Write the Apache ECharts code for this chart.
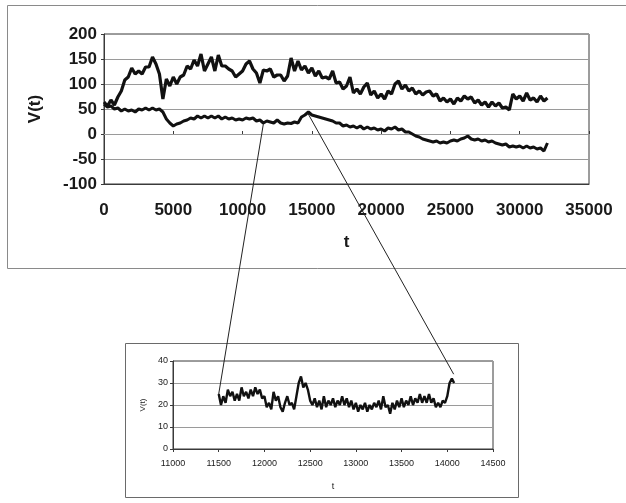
<!DOCTYPE html>
<html>
<head>
<meta charset="utf-8">
<script src="https://cdn.jsdelivr.net/npm/echarts@6/dist/echarts.min.js"></script>
<style>
    html, body { margin: 0; padding: 0; background: #fff; }
    #chart { width: 626px; height: 503px; }
</style>
</head>
<body>
<div id="chart"></div>
<script>
// main chart: two runs sampled every 250 steps, starting at t = 0
const mainStart = 0
const mainStep = 250
const upperRun = [
    64, 56, 68, 58, 74, 86, 108, 114, 132, 120, 126, 120, 134, 134, 154, 140,
    120, 70, 110, 96, 114, 100, 114, 118, 136, 130, 148, 136, 160, 126, 140, 154,
    126, 158, 136, 136, 130, 126, 114, 120, 126, 140, 146, 130, 122, 102, 128, 126,
    130, 114, 118, 118, 106, 116, 152, 126, 146, 128, 136, 122, 132, 116, 126, 112,
    114, 110, 126, 102, 104, 90, 96, 114, 82, 90, 80, 94, 102, 78, 86, 72,
    80, 70, 86, 80, 100, 106, 90, 98, 86, 92, 80, 86, 78, 84, 86, 76,
    80, 66, 72, 64, 70, 60, 72, 66, 76, 70, 74, 62, 68, 58, 64, 54,
    64, 56, 62, 52, 54, 48, 80, 70, 76, 66, 82, 68, 72, 64, 76, 66,
    72
]
const lowerRun = [
    60, 54, 56, 50, 52, 46, 50, 46, 48, 44, 50, 48, 52, 48, 52, 48,
    50, 44, 30, 22, 16, 20, 22, 26, 28, 32, 30, 36, 32, 36, 32, 36,
    32, 36, 30, 34, 30, 32, 28, 30, 28, 32, 30, 32, 26, 28, 22, 26,
    24, 22, 28, 22, 20, 22, 21, 24, 22, 34, 38, 44, 38, 36, 34, 32,
    30, 28, 26, 22, 22, 16, 18, 14, 16, 12, 16, 10, 14, 10, 12, 8,
    10, 6, 12, 10, 14, 8, 10, 4, 4, 0, -4, -6, -10, -12, -14, -16,
    -14, -18, -16, -18, -14, -12, -14, -10, -8, -4, -10, -12, -10, -14, -12, -16,
    -14, -18, -20, -22, -20, -26, -24, -26, -24, -28, -24, -28, -26, -30, -28, -34,
    -18
]

// zoomed part of the lower run, sampled every 25 steps from t = 11500
const zoomStart = 11500
const zoomStep = 25
const zoomRun = [
    25, 20, 24, 21, 27, 24, 26, 22, 25, 22, 28, 24, 26, 23, 27, 24,
    28, 25, 27, 23, 24, 19, 21, 18, 26, 22, 24, 19, 17, 21, 24, 20,
    21, 18, 24, 30, 33, 28, 30, 27, 22, 20, 23, 19, 22, 18, 24, 19,
    22, 20, 23, 19, 22, 20, 24, 20, 23, 19, 22, 18, 21, 17, 20, 18,
    21, 17, 20, 18, 21, 19, 22, 18, 24, 19, 20, 16, 21, 18, 22, 19,
    23, 19, 22, 20, 24, 20, 23, 21, 25, 21, 24, 21, 25, 21, 23, 19,
    21, 19, 22, 21, 24, 30, 32, 30
]

// where the zoom lines are anchored: [t, v] in each chart
const mainAnchors = [[11500, 20], [14700, 42]]
const zoomAnchors = [[11500, 25], [14070, 34]]

const mainYTicks = { min: -100, max: 200, interval: 50 }
const mainXTicks = { min: 0, max: 35000, interval: 5000 }
const zoomYTicks = { min: 0, max: 40, interval: 10 }
const zoomXTicks = { min: 11000, max: 14500, interval: 500 }

const toPairs = (start, step, values) => values.map((v, i) => [start + i * step, v])
const plain = v => String(v)

const textColor = '#1a1a1a'
const gridColor = '#9a9a9a'
const frameColor = '#3a3a3a'
const font = 'Liberation Sans, Arial, sans-serif'

function valueAxis(ticks, gridIndex, extra) {
    return Object.assign({
        type: 'value',
        gridIndex: gridIndex,
        min: ticks.min,
        max: ticks.max,
        interval: ticks.interval,
        axisLine: { show: true, onZero: false, lineStyle: { color: frameColor, width: 1 } },
        axisTick: { show: true, length: 3, lineStyle: { color: frameColor } },
        splitLine: { show: false }
    }, extra)
}

const option = {
    animation: false,
    backgroundColor: '#fff',
    grid: [
        { left: 104, top: 34, width: 485, height: 150, show: true, borderColor: frameColor, borderWidth: 1, backgroundColor: 'transparent' },
        { left: 173, top: 361, width: 320, height: 88, show: true, borderColor: frameColor, borderWidth: 1, backgroundColor: 'transparent' }
    ],
    xAxis: [
        valueAxis(mainXTicks, 0, {
            name: 't',
            nameLocation: 'middle',
            nameGap: 50,
            nameTextStyle: { color: textColor, fontSize: 17, fontWeight: 'bold', fontFamily: font },
            axisTick: { show: false },
            axisLabel: { color: textColor, fontSize: 17, fontWeight: 'bold', fontFamily: font, margin: 18, formatter: plain }
        }),
        // tick marks sit on the zero line, as in the original
        valueAxis(mainXTicks, 0, {
            axisLine: { show: true, onZero: true, onZeroAxisIndex: 0, lineStyle: { color: gridColor } },
            axisTick: { show: true, length: 3, lineStyle: { color: frameColor } },
            axisLabel: { show: false }
        }),
        valueAxis(zoomXTicks, 1, {
            name: 't',
            nameLocation: 'middle',
            nameGap: 33,
            nameTextStyle: { color: textColor, fontSize: 9, fontFamily: font },
            axisLabel: { color: textColor, fontSize: 9, fontFamily: font, margin: 10, formatter: plain }
        })
    ],
    yAxis: [
        valueAxis(mainYTicks, 0, {
            name: 'V(t)',
            nameLocation: 'middle',
            nameGap: 60,
            nameRotate: 90,
            nameTextStyle: { color: textColor, fontSize: 17, fontWeight: 'bold', fontFamily: font },
            axisLabel: { color: textColor, fontSize: 17, fontWeight: 'bold', fontFamily: font, margin: 7 },
            splitLine: { show: true, lineStyle: { color: gridColor, width: 1 } }
        }),
        valueAxis(zoomYTicks, 1, {
            name: 'V(t)',
            nameLocation: 'middle',
            nameGap: 24,
            nameRotate: 90,
            nameTextStyle: { color: textColor, fontSize: 8, fontFamily: font },
            axisLabel: { color: textColor, fontSize: 9, fontFamily: font, margin: 5 },
            splitLine: { show: true, lineStyle: { color: gridColor, width: 1 } }
        })
    ],
    series: [
        {
            type: 'line', xAxisIndex: 0, yAxisIndex: 0, showSymbol: false,
            lineStyle: { color: '#111', width: 3.2 },
            data: toPairs(mainStart, mainStep, upperRun)
        },
        {
            type: 'line', xAxisIndex: 0, yAxisIndex: 0, showSymbol: false,
            lineStyle: { color: '#111', width: 3 },
            data: toPairs(mainStart, mainStep, lowerRun)
        },
        {
            type: 'line', xAxisIndex: 2, yAxisIndex: 1, showSymbol: false,
            lineStyle: { color: '#111', width: 2.4 },
            data: toPairs(zoomStart, zoomStep, zoomRun)
        }
    ]
}

const chart = echarts.init(document.getElementById('chart'), null, { renderer: 'canvas' })
chart.setOption(option)

// frames around both charts and the lines joining them
const links = mainAnchors.map((a, i) => {
    const p1 = chart.convertToPixel({ gridIndex: 0 }, a)
    const p2 = chart.convertToPixel({ gridIndex: 1 }, zoomAnchors[i])
    return {
        type: 'line',
        shape: { x1: p1[0], y1: p1[1], x2: p2[0], y2: p2[1] },
        style: { stroke: '#222', lineWidth: 1 },
        z: 10
    }
})
chart.setOption({
    graphic: [
        { type: 'rect', shape: { x: 7.5, y: 5.5, width: 630, height: 263 }, style: { fill: 'none', stroke: '#8a8a8a', lineWidth: 1 }, z: -1 },
        { type: 'rect', shape: { x: 125.5, y: 343.5, width: 393, height: 154 }, style: { fill: 'none', stroke: '#6a6a6a', lineWidth: 1 }, z: -1 }
    ].concat(links)
})
</script>
</body>
</html>
